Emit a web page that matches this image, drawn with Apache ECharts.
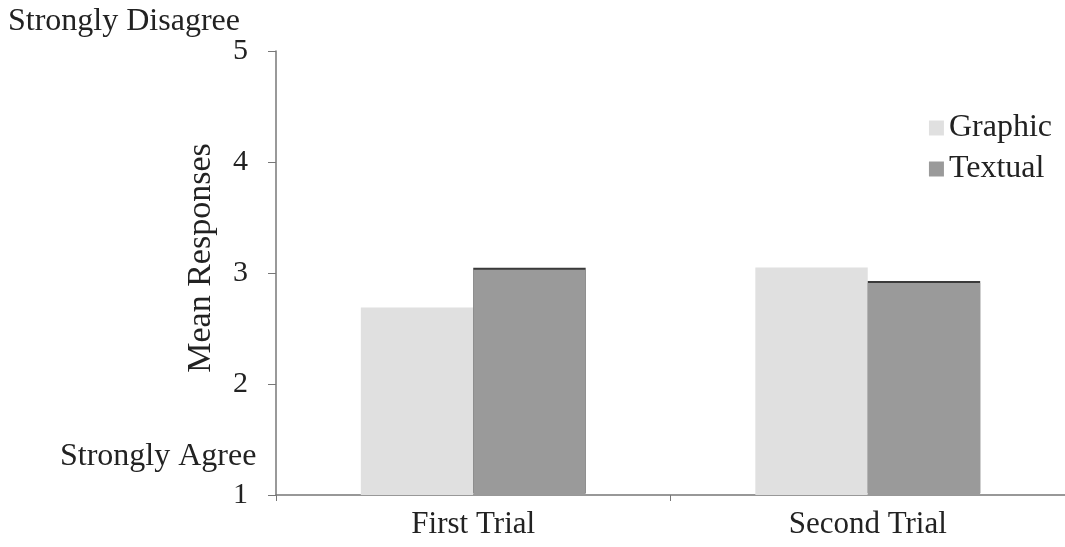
<!DOCTYPE html>
<html>
<head>
<meta charset="utf-8">
<script src="https://cdn.jsdelivr.net/npm/echarts@6/dist/echarts.min.js"></script>
<style>html,body{margin:0;padding:0;background:#fff}#c{width:1065px;height:547px}</style>
</head>
<body>
<div id="c"></div>
<script>
const categories = ['First Trial', 'Second Trial'];
const graphic = [2.69, 3.05];
const textual = [3.03, 2.91];
const yTicks = [1, 2, 3, 4, 5];

const FONT = 'Liberation Serif';
const chart = echarts.init(document.getElementById('c'));
chart.setOption({
  backgroundColor: '#fff',
  animation: false,
  textStyle: { fontFamily: FONT, color: '#222' },
  grid: { left: 276, right: 0, top: 51, bottom: 52 },
  legend: {
    orient: 'vertical', right: 8, top: 107, itemWidth: 15, itemHeight: 15, itemGap: 9,
    icon: 'rect',
    textStyle: { fontFamily: FONT, fontSize: 32, color: '#222' },
    data: ['Graphic', 'Textual']
  },
  xAxis: {
    type: 'category', data: categories,
    axisLine: { lineStyle: { color: '#777', width: 1.5 } },
    axisTick: { show: true, length: 6, lineStyle: { color: '#777' } },
    axisLabel: { fontFamily: FONT, fontSize: 31, color: '#222', margin: 14 }
  },
  yAxis: {
    type: 'value', min: yTicks[0], max: yTicks[yTicks.length - 1], interval: 1,
    splitLine: { show: false },
    axisLine: { show: true, lineStyle: { color: '#777', width: 1.5 } },
    axisTick: { show: true, length: 8, lineStyle: { color: '#777' } },
    axisLabel: { fontFamily: FONT, fontSize: 30, color: '#222', margin: 28 }
  },
  series: [
    { name: 'Graphic', type: 'bar', data: graphic, barGap: '0%', barCategoryGap: '43%',
      itemStyle: { color: '#e0e0e0' } },
    { name: 'Textual', type: 'bar', data: textual, barGap: '0%', barCategoryGap: '43%',
      itemStyle: { color: '#9a9a9a', shadowColor: '#3a3a3a', shadowOffsetY: -2, shadowBlur: 0 } }
  ],
  graphic: [
    { type: 'text', left: 8, top: 6, style: { text: 'Strongly Disagree', font: '32px "Liberation Serif"', fill: '#222' } },
    { type: 'text', left: 60, top: 441, style: { text: 'Strongly Agree', font: '32px "Liberation Serif"', fill: '#222' } },
    { type: 'text', x: 201, y: 258, rotation: Math.PI / 2,
      style: { text: 'Mean Responses', font: '34px "Liberation Serif"', fill: '#222', align: 'center', verticalAlign: 'middle' } }
  ]
});
</script>
</body>
</html>
